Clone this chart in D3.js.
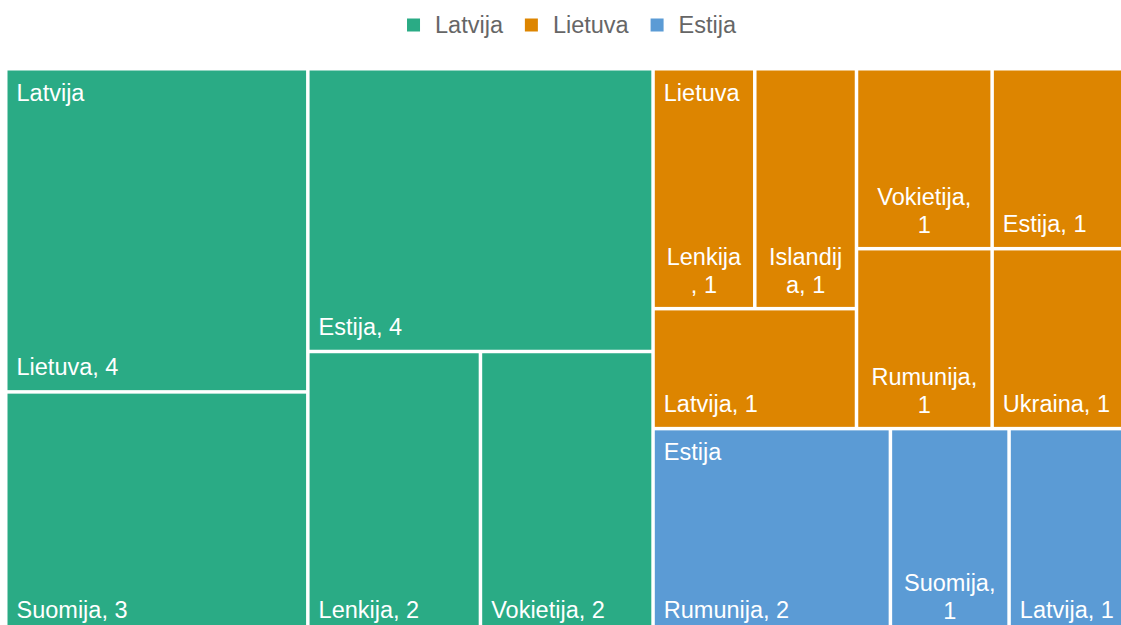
<!DOCTYPE html>
<html>
<head>
<meta charset="utf-8">
<script src="https://cdn.jsdelivr.net/npm/d3@7"></script>
<style>
  html, body { margin: 0; padding: 0; overflow: hidden; background: #fff; }
  svg text { font-family: "Liberation Sans", Arial, sans-serif; }
</style>
</head>
<body>
<div id="chart"></div>
<script>
// top level groups (legend order) and their colours
var groups = ["Latvija", "Lietuva", "Estija"];
var groupColors = ["#2aab85", "#dd8500", "#5b9bd5"];

// cells inside each group, in data order
var latvijaNames  = ["Lietuva", "Suomija", "Estija", "Lenkija", "Vokietija"];
var latvijaValues = [4, 3, 4, 2, 2];
var lietuvaNames  = ["Lenkija", "Islandija", "Latvija", "Vokietija", "Estija", "Rumunija", "Ukraina"];
var lietuvaValues = [1, 1, 1, 1, 1, 1, 1];
var estijaNames   = ["Rumunija", "Suomija", "Latvija"];
var estijaValues  = [2, 1, 1];

var childNames  = [latvijaNames, lietuvaNames, estijaNames];
var childValues = [latvijaValues, lietuvaValues, estijaValues];

var svgW = 1140, svgH = 645;
var margin = { left: 7.5, top: 70.5, right: 14, bottom: 12.5 };
var plotW = svgW - margin.left - margin.right,
    plotH = svgH - margin.top - margin.bottom;

var fontSize = 23.5;
var labelPad = 9;    // text offset from the cell's left edge
var wrapPad = 10;    // room kept free on each side before a label wraps
var lineH = 28;

var data = {
  name: "root",
  children: groups.map(function(g, i) {
    return {
      name: g,
      children: childNames[i].map(function(n, j) { return { name: n, value: childValues[i][j] }; })
    };
  })
};

var squarify1 = d3.treemapSquarify.ratio(1);

// Excel puts the first three "Lietuva" cells in one block (two on top, one below)
// and the other four in a grid next to it
function excelTile(node, x0, y0, x1, y1) {
  if (node.depth === 1 && node.data.name === "Lietuva") {
    var kids = node.children;
    var left  = { value: d3.sum(kids.slice(0, 3), function(d) { return d.value; }), children: kids.slice(0, 3) };
    var right = { value: d3.sum(kids.slice(3), function(d) { return d.value; }), children: kids.slice(3) };
    d3.treemapDice({ value: node.value, children: [left, right] }, x0, y0, x1, y1);

    var top = { value: left.children[0].value + left.children[1].value, children: left.children.slice(0, 2) };
    d3.treemapSlice({ value: left.value, children: [top, left.children[2]] }, left.x0, left.y0, left.x1, left.y1);
    d3.treemapDice(top, top.x0, top.y0, top.x1, top.y1);

    squarify1(right, right.x0, right.y0, right.x1, right.y1);
  } else {
    squarify1(node, x0, y0, x1, y1);
  }
}

var root = d3.hierarchy(data).sum(function(d) { return d.value; });

d3.treemap()
  .tile(excelTile)
  .size([plotW, plotH])
  .paddingInner(3.5)(root);

var svg = d3.select("#chart")
  .append("svg")
    .attr("width", svgW)
    .attr("height", svgH);

var g = svg.append("g")
  .attr("transform", "translate(" + margin.left + "," + margin.top + ")");

var color = d3.scaleOrdinal().domain(groups).range(groupColors);

var leaves = root.leaves();

g.selectAll("rect.cell")
  .data(leaves)
  .enter()
  .append("rect")
    .attr("class", "cell")
    .attr("x", function(d) { return d.x0; })
    .attr("y", function(d) { return d.y0; })
    .attr("width", function(d) { return d.x1 - d.x0; })
    .attr("height", function(d) { return d.y1 - d.y0; })
    .attr("fill", function(d) { return color(d.parent.data.name); });

// text measuring helper
var measurer = svg.append("text")
  .attr("font-size", fontSize)
  .attr("x", -1000).attr("y", -1000);
function textW(s) {
  measurer.text(s);
  return measurer.node().getComputedTextLength();
}

// break the label by characters when the cell is too narrow
function wrapLabel(s, avail) {
  if (textW(s) <= avail) return [s];
  var lines = [], cur = "";
  for (var i = 0; i < s.length; i++) {
    var next = cur + s[i];
    if (cur && textW(next.trimEnd()) > avail) {
      lines.push(cur.trim());
      cur = s[i];
    } else {
      cur = next;
    }
  }
  if (cur.trim()) lines.push(cur.trim());
  return lines;
}

leaves.forEach(function(d) {
  var label = d.data.name + ", " + d.data.value;
  var lines = wrapLabel(label, d.x1 - d.x0 - 2 * wrapPad);
  var n = lines.length;
  var t = g.append("text")
    .attr("font-size", fontSize)
    .attr("fill", "#fff");
  if (n === 1) {
    t.attr("x", d.x0 + labelPad)
     .attr("y", d.y1 - 15)
     .text(lines[0]);
  } else {
    lines.forEach(function(l, k) {
      t.append("tspan")
        .attr("x", (d.x0 + d.x1) / 2)
        .attr("y", d.y1 - 14 - (n - 1 - k) * lineH)
        .attr("text-anchor", "middle")
        .text(l);
    });
  }
});

measurer.remove();

// group names on top-left of each group
g.selectAll("text.group")
  .data(root.children)
  .enter()
  .append("text")
    .attr("class", "group")
    .attr("x", function(d) { return d.x0 + labelPad; })
    .attr("y", function(d) { return d.y0 + 30; })
    .attr("font-size", fontSize)
    .attr("fill", "#fff")
    .text(function(d) { return d.data.name; });

// legend
var sw = 13, swGap = 15, itemGap = 21;
var legend = svg.append("g");
var items = legend.selectAll("g")
  .data(groups)
  .enter()
  .append("g");
items.append("rect")
  .attr("width", sw).attr("height", sw)
  .attr("y", 18.5)
  .attr("fill", function(d) { return color(d); });
items.append("text")
  .attr("x", sw + swGap)
  .attr("y", 33)
  .attr("font-size", fontSize)
  .attr("fill", "#666")
  .text(function(d) { return d; });

var xPos = 0;
items.each(function() {
  var w = this.getBBox().width;
  d3.select(this).attr("transform", "translate(" + xPos + ",0)");
  xPos += w + itemGap;
});
var legendW = xPos - itemGap;
legend.attr("transform", "translate(" + (572 - legendW / 2) + ",0)");
</script>
</body>
</html>
